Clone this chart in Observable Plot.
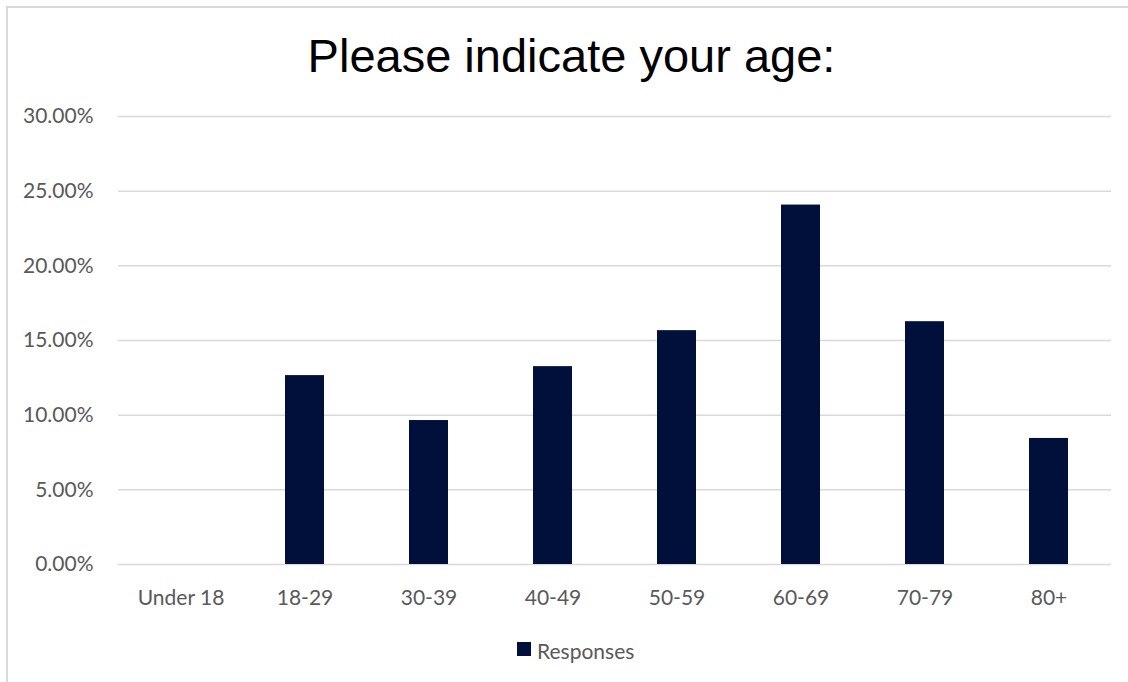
<!DOCTYPE html>
<html>
<head>
<meta charset="utf-8">
<script src="https://cdn.jsdelivr.net/npm/d3@7"></script>
<script src="https://cdn.jsdelivr.net/npm/@observablehq/plot@0.6"></script>
<style>
  html, body { margin: 0; padding: 0; background: #fff; }
  #wrap { position: relative; width: 1128px; height: 682px; overflow: hidden; background: #fff; }
  #frame { position: absolute; left: 6px; top: 6px; width: 2000px; height: 2000px;
           border-left: 2px solid #d9d9d9; border-top: 2px solid #d9d9d9; box-sizing: border-box; }
  #title { position: relative; height: 95px; box-sizing: border-box; padding-top: 32px;
           font-family: "Liberation Sans", Arial, sans-serif; font-size: 47px; line-height: 47px;
           color: #000; text-align: center; padding-left: 15px; }
  #chart { position: relative; height: 530px; }
  #chart svg { display: block; }
  #legend { position: relative; height: 57px; font-family: Lato, "Open Sans", sans-serif;
            font-size: 21px; line-height: 21px; color: #595959; }
  #legend .sw { position: absolute; left: 517px; top: 17px; width: 14px; height: 14px; }
  #legend .lb { position: absolute; left: 537px; top: 14.5px; white-space: nowrap; }
</style>
</head>
<body>
<div id="wrap">
  <div id="frame"></div>
  <div id="title">Please indicate your age:</div>
  <div id="chart"></div>
  <div id="legend"><span class="sw"></span><span class="lb"></span></div>
</div>
<script>
const categories = ["Under 18", "18-29", "30-39", "40-49", "50-59", "60-69", "70-79", "80+"];
const responses = [0, 12.65, 9.64, 13.25, 15.66, 24.07, 16.26, 8.44];
const yTicks = [0, 5, 10, 15, 20, 25, 30];
const seriesName = "Responses";
const barColor = "#00103a";

const data = categories.map((c, i) => ({category: c, value: responses[i]}));

const plot = Plot.plot({
  width: 1128,
  height: 530,
  marginLeft: 118,
  marginRight: 17,
  marginTop: 21,
  marginBottom: 61,
  style: {fontFamily: "Lato, 'Open Sans', sans-serif", fontSize: "21px", color: "#595959", background: "transparent"},
  x: {domain: categories, paddingInner: 0.686, paddingOuter: 0.343, label: null, tickSize: 0, tickPadding: 25.8},
  y: {domain: [0, 30], ticks: yTicks, tickFormat: d => d.toFixed(2) + "%", label: null, tickSize: 0, tickPadding: 25},
  marks: [
    Plot.ruleY(yTicks, {stroke: "#d9d9d9", strokeWidth: 1.5}),
    Plot.barY(data, {x: "category", y: "value", fill: barColor}),
    Plot.axisX({tickSize: 0, tickPadding: 25.8, fill: "#595959"}),
    Plot.axisY({ticks: yTicks, tickFormat: d => d.toFixed(2) + "%", tickSize: 0, tickPadding: 25, fill: "#595959"})
  ]
});
document.getElementById("chart").appendChild(plot);
document.querySelector("#legend .sw").style.background = barColor;
document.querySelector("#legend .lb").textContent = seriesName;
</script>
</body>
</html>
